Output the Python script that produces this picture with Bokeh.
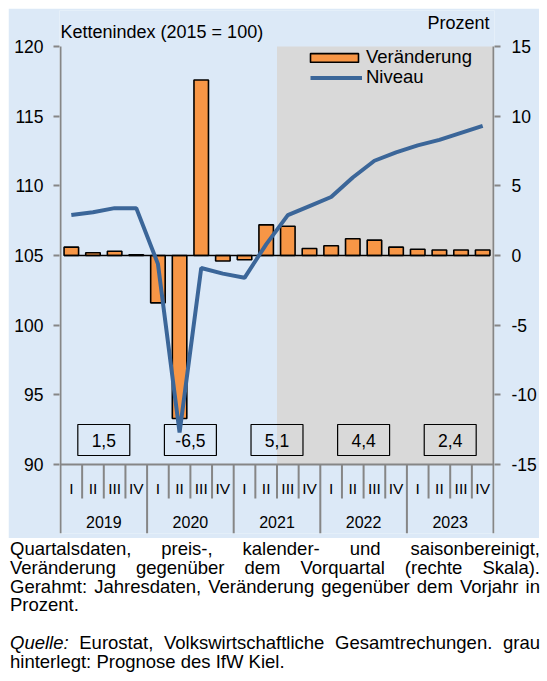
from bokeh.plotting import figure
from bokeh.models import Range1d, LinearAxis, FixedTicker, Legend, LegendItem, Div, Label
from bokeh.layouts import column
from bokeh.embed import file_html
from bokeh.resources import INLINE
from bokeh.core.properties import value

# ---------------- data ----------------
years = ["2019", "2020", "2021", "2022", "2023"]
quarters = ["I", "II", "III", "IV"]
# quarterly change vs previous quarter, percent (right scale)
veraenderung = [0.6, 0.2, 0.3, 0.05,
                -3.4, -11.7, 12.6, -0.4,
                -0.3, 2.2, 2.1, 0.5,
                0.7, 1.2, 1.1, 0.6,
                0.45, 0.4, 0.4, 0.4]
# chain index level 2015 = 100 (left scale)
niveau = [107.9, 108.1, 108.4, 108.4,
          104.4, 92.3, 104.1, 103.7,
          103.4, 105.8, 107.9, 108.55,
          109.2, 110.6, 111.8, 112.4,
          112.9, 113.3, 113.8, 114.3]
# annual rates (framed boxes)
jahresrate = [1.5, -6.5, 5.1, 4.4, 2.4]
prognose_ab = 10          # first forecast quarter index (2021 III)
left_ticks = [90, 95, 100, 105, 110, 115, 120]
right_ticks = [-15, -10, -5, 0, 5, 10, 15]

# ---------------- style / layout ----------------
BG = "#dce9f7"
GREY_BG = "#d9d9d9"
AXIS_GREY = "#868686"
ORANGE = "#f79646"
BLUE = "#3b6699"
FONT = "Liberation Sans"

PX = 418 / 30.0          # pixels per unit on both value scales
QPX = 21.8               # pixels per quarter
Y_TOP, Y_AXIS = 120, 90
EXTRA_BELOW = 69         # px below the value axis (category labels)
EXTRA_ABOVE = 36         # px above the 120 line (titles, inside the frame)
y_start = Y_AXIS - EXTRA_BELOW / PX
y_end = Y_TOP + EXTRA_ABOVE / PX
SHIFT = 105              # left value corresponding to 0 % on the right
PAD = 1 / QPX            # 1px pad so the drawn axis lines are not clipped

n = len(veraenderung)
xc = [i + 0.5 for i in range(n)]

p = figure(width=531, height=530,
           x_range=Range1d(-PAD, n + PAD), y_range=Range1d(y_start, y_end),
           x_axis_location=None, output_backend="svg", toolbar_location=None,
           min_border_left=51, min_border_right=42, min_border_top=2, min_border_bottom=5,
           background_fill_color=BG, border_fill_color=BG, outline_line_color=None)
p.grid.visible = False
p.extra_y_ranges = {"pct": Range1d(y_start - SHIFT, y_end - SHIFT)}

def style_axis(ax, standoff):
    ax.axis_line_color = None
    ax.major_tick_line_color = AXIS_GREY
    ax.major_tick_line_width = 2
    ax.major_tick_in = 0
    ax.major_tick_out = 6
    ax.minor_tick_line_color = None
    ax.major_label_text_font = FONT
    ax.major_label_text_font_size = "17.5px"
    ax.major_label_text_color = "black"
    ax.major_label_standoff = standoff

yl = p.yaxis[0]
yl.ticker = FixedTicker(ticks=left_ticks)
style_axis(yl, 10)

yr = LinearAxis(y_range_name="pct", ticker=FixedTicker(ticks=right_ticks),
                major_label_overrides={t: str(t) for t in right_ticks})
style_axis(yr, 11)
p.add_layout(yr, "right")

# forecast shading
p.quad(left=[prognose_ab], right=[n], bottom=[Y_AXIS], top=[Y_TOP],
       fill_color=GREY_BG, line_color=None)

# value axis lines (left/right) and category axis line
p.segment(x0=[0, n], x1=[0, n], y0=[y_start, y_start], y1=[Y_TOP, Y_TOP],
          line_color=AXIS_GREY, line_width=2)
p.segment(x0=[0], x1=[n], y0=[Y_AXIS], y1=[Y_AXIS], line_color=AXIS_GREY, line_width=2)
qb = [i for i in range(1, n) if i % 4 != 0]
yb = [i for i in range(1, n) if i % 4 == 0]
p.segment(x0=qb, x1=qb, y0=[Y_AXIS] * len(qb), y1=[Y_AXIS - 34 / PX] * len(qb),
          line_color=AXIS_GREY, line_width=2)
p.segment(x0=yb, x1=yb, y0=[Y_AXIS] * len(yb), y1=[y_start] * len(yb),
          line_color=AXIS_GREY, line_width=2)
p.text(x=xc, y=[Y_AXIS - 24 / PX] * n, text=[quarters[i % 4] for i in range(n)],
       text_align="center", text_baseline="middle", text_font=value(FONT),
       text_font_size="15.5px", text_color="black")
yc = [4 * k + 2 for k in range(len(years))]
p.text(x=yc, y=[Y_AXIS - 57 / PX] * len(years), text=years,
       text_align="center", text_baseline="middle", text_font=value(FONT),
       text_font_size="16px", text_color="black")

# bars (right scale)
BW = 0.67
bars = p.vbar(x=xc, top=veraenderung, bottom=0, width=BW, y_range_name="pct",
              fill_color=ORANGE, line_color="black", line_width=1.6)
p.segment(x0=[xc[0] - BW / 2], x1=[xc[-1] + BW / 2], y0=[0], y1=[0],
          y_range_name="pct", line_color="black", line_width=1.6)

# annual boxes
box_y = Y_AXIS + (464 - 439.5) / PX
p.rect(x=yc, y=[box_y] * len(yc), width=2.4, height=31 / PX,
       fill_alpha=0, line_color="black", line_width=1.2)
p.text(x=yc, y=[box_y] * len(yc), text=[f"{v:.1f}".replace(".", ",") for v in jahresrate],
       text_align="center", text_baseline="middle", text_font=value(FONT),
       text_font_size="17.5px", text_color="black")

# level line
line = p.line(x=xc, y=niveau, line_color=BLUE, line_width=4)

# legends (location = legend's bottom-left offset from the frame's bottom-left, px)
leg1 = Legend(items=[LegendItem(label="Veränderung", renderers=[bars])],
              location=(245, 465), glyph_width=60, glyph_height=11, label_standoff=2,
              padding=0, margin=0, spacing=0, label_height=20,
              border_line_alpha=0, background_fill_alpha=0,
              label_text_font=FONT, label_text_font_size="18.5px", label_text_color="black")
leg2 = Legend(items=[LegendItem(label="Niveau", renderers=[line])],
              location=(251, 445), glyph_width=52, glyph_height=11, label_standoff=4,
              padding=0, margin=0, spacing=0, label_height=20,
              border_line_alpha=0, background_fill_alpha=0,
              label_text_font=FONT, label_text_font_size="18.5px", label_text_color="black")
p.add_layout(leg1)
p.add_layout(leg2)

# axis titles (inside the extended frame)
p.add_layout(Label(x=0, y=Y_TOP + 15 / PX, text="Kettenindex (2015 = 100)",
                   text_align="left", text_baseline="middle",
                   text_font=FONT, text_font_size="18px", text_color="black"))
p.add_layout(Label(x=(492 - 60) / QPX, y=Y_TOP + 24 / PX, text="Prozent",
                   text_align="right", text_baseline="middle",
                   text_font=FONT, text_font_size="18px", text_color="black"))

note = Div(text=(
    '<div style="text-align:justify;">Quartalsdaten, preis-, kalender- und saisonbereinigt, '
    'Veränderung gegenüber dem Vorquartal (rechte Skala). Gerahmt: Jahresdaten, '
    'Veränderung gegenüber dem Vorjahr in Prozent.</div>'
    '<div style="text-align:justify;margin-top:18.8px;"><i>Quelle:</i>&nbsp;Eurostat, '
    'Volkswirtschaftliche Gesamtrechungen. grau hinterlegt: Prognose des IfW Kiel.</div>'),
    width=532, margin=0,
    styles={"font-family": "'Liberation Sans', Arial, sans-serif", "font-size": "18.5px",
            "line-height": "18.8px", "color": "black", "padding-left": "2px",
            "padding-top": "2px", "box-sizing": "border-box"})

layout = column(p, note, spacing=0, margin=(8, 0, 0, 8))
html = file_html(layout, INLINE)
html = html.replace("<body>", '<body style="background:%s;">' % BG, 1)
open("out.html", "w").write(html)
